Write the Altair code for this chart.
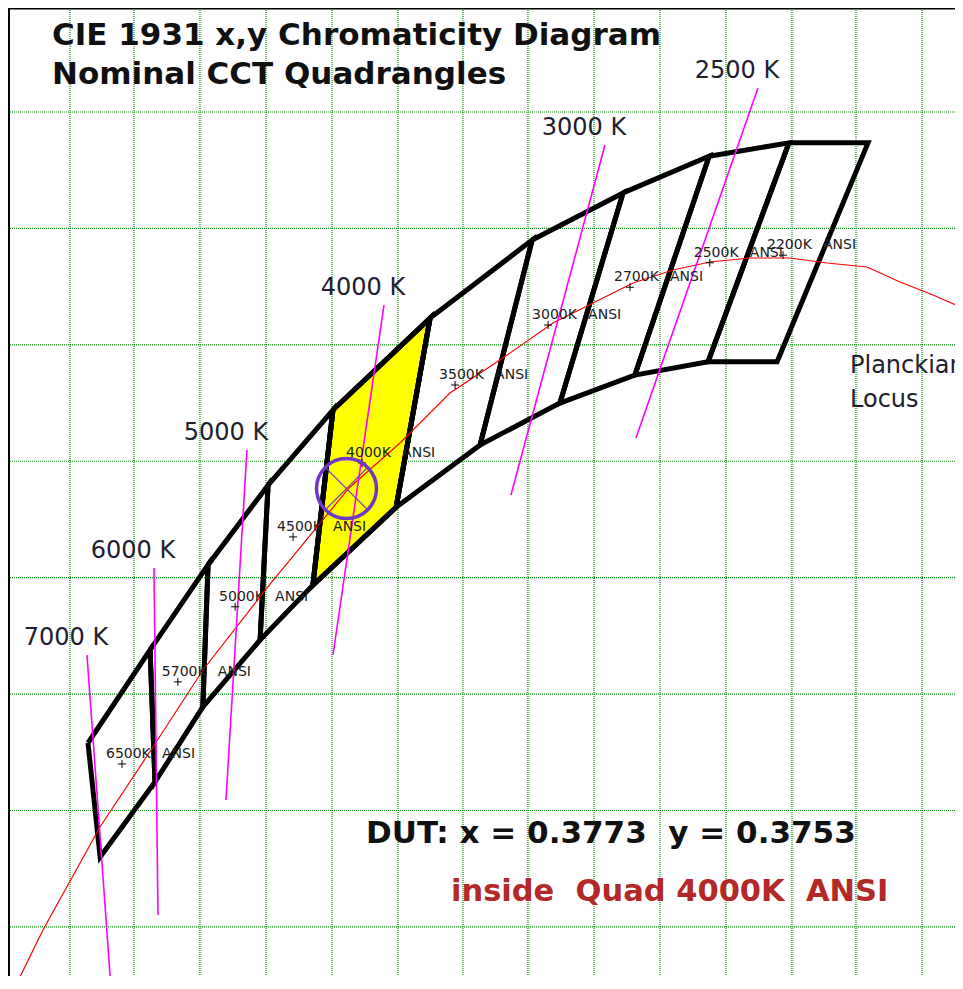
import altair as alt
import pandas as pd

W, H = 947, 968
X_DOMAIN = [0.27975, 0.55266]
Y_DOMAIN = [0.291572, 0.457866]

# ANSI nominal CCT quadrangles (shared corner chains, left to right)
quad_names = ["6500K", "5700K", "5000K", "4500K", "4000K", "3500K", "3000K", "2700K", "2500K", "2200K"]
top_x = [0.3028, 0.3207, 0.3374, 0.3547, 0.3734, 0.4014, 0.4308, 0.4570, 0.4818, 0.5048, 0.5276]
top_y = [0.3316, 0.3476, 0.3622, 0.3759, 0.3888, 0.4046, 0.4180, 0.4261, 0.4324, 0.4347, 0.4347]
bot_x = [0.3063, 0.3221, 0.3359, 0.3524, 0.3676, 0.3916, 0.4158, 0.4388, 0.4604, 0.4815, 0.5014]
bot_y = [0.3120, 0.3249, 0.3378, 0.3493, 0.3587, 0.3721, 0.3828, 0.3900, 0.3948, 0.3971, 0.3971]
center_x = [0.3126, 0.3287, 0.3452, 0.3619, 0.3818, 0.4086, 0.4354, 0.4590, 0.4820, 0.5031]
center_y = [0.3280, 0.3421, 0.3550, 0.3670, 0.3797, 0.3931, 0.4034, 0.4099, 0.4141, 0.4154]

# Planckian locus
locus_x = [0.28176, 0.28983, 0.30626, 0.32153, 0.33594, 0.35439, 0.37802, 0.39271, 0.40712,
           0.42153, 0.43681, 0.44833, 0.45986, 0.47139, 0.48205, 0.49358, 0.50511, 0.51577,
           0.52730, 0.53681, 0.54632, 0.55496]
locus_y = [0.28968, 0.29947, 0.31717, 0.33091, 0.34414, 0.35823, 0.37541, 0.38314, 0.39173,
           0.39740, 0.40375, 0.40719, 0.41062, 0.41286, 0.41423, 0.41492, 0.41492, 0.41406,
           0.41337, 0.41080, 0.40856, 0.40633]

# Isotherm lines
iso_labels = ["2500 K", "3000 K", "4000 K", "5000 K", "6000 K", "7000 K"]
iso_x1 = [0.49588, 0.45179, 0.38810, 0.34862, 0.32182, 0.30251]
iso_y1 = [0.44412, 0.43433, 0.40684, 0.38193, 0.36166, 0.34672]
iso_x2 = [0.46072, 0.42470, 0.37341, 0.34257, 0.32297, 0.30943]
iso_y2 = [0.38400, 0.37420, 0.34672, 0.32181, 0.30205, 0.28951]

# Grid lines
grid_x = [0.29761, 0.31606, 0.33508, 0.35410, 0.37312, 0.39214, 0.41087, 0.42960,
          0.44862, 0.46764, 0.48666, 0.50568, 0.52413, 0.54315]
grid_y = [0.30, 0.32, 0.34, 0.36, 0.38, 0.40, 0.42, 0.44]

# Device under test
dut_x = [0.3773]
dut_y = [0.3753]
dut_quad = "4000K"

NB = "\u00a0"
title_lines = ["CIE 1931 x,y Chromaticity Diagram", "Nominal CCT Quadrangles"]
dut_text = "DUT: x = 0.3773" + NB * 2 + "y = 0.3753"
result_text = "inside" + NB * 2 + "Quad 4000K" + NB * 2 + "ANSI"

# ---- build tables ----
rows = []
for i, name in enumerate(quad_names):
    verts = [(top_x[i], top_y[i]), (top_x[i + 1], top_y[i + 1]),
             (bot_x[i + 1], bot_y[i + 1]), (bot_x[i], bot_y[i]), (top_x[i], top_y[i])]
    for k, (vx, vy) in enumerate(verts):
        rows.append({"quad": name, "k": k, "x": vx, "y": vy})
quad_df = pd.DataFrame(rows)
center_df = pd.DataFrame({"quad": quad_names, "x": center_x, "y": center_y, "ansi": ["ANSI"] * len(quad_names)})
locus_df = pd.DataFrame({"x": locus_x, "y": locus_y, "i": list(range(len(locus_x)))})
iso_df = pd.DataFrame({"label": iso_labels, "x": iso_x1, "y": iso_y1, "x2": iso_x2, "y2": iso_y2})
gx_df = pd.DataFrame({"x": grid_x})
gy_df = pd.DataFrame({"y": grid_y})
dut_df = pd.DataFrame({"x": dut_x, "y": dut_y})
one = pd.DataFrame({"a": [0]})

xs = alt.Scale(domain=X_DOMAIN, nice=False, zero=False)
ys = alt.Scale(domain=Y_DOMAIN, nice=False, zero=False)
X = lambda f="x": alt.X(f, type="quantitative", scale=xs, axis=None)
Y = lambda f="y": alt.Y(f, type="quantitative", scale=ys, axis=None)

GRID = "#0c8f0c"
grid_v = alt.Chart(gx_df).mark_rule(color=GRID, strokeWidth=1.2, strokeDash=[1, 1]).encode(x=X())
grid_h = alt.Chart(gy_df).mark_rule(color=GRID, strokeWidth=1.2, strokeDash=[1, 1]).encode(y=Y())

frame_l = alt.Chart(one).mark_rule(color="black", strokeWidth=2).encode(
    x=alt.value(1), y=alt.value(0), y2=alt.value(H))
frame_t = alt.Chart(one).mark_rule(color="black", strokeWidth=2).encode(
    y=alt.value(0.5), x=alt.value(0), x2=alt.value(W))

fill_q = alt.Chart(quad_df).transform_filter(alt.datum.quad == dut_quad).mark_line(
    fill="#ffff00", stroke="#000000", strokeWidth=5, clip=True
).encode(x=X(), y=Y(), order="k:Q")

quads = alt.Chart(quad_df).mark_line(color="black", strokeWidth=5, clip=True).encode(
    x=X(), y=Y(), detail="quad:N", order="k:Q")

locus = alt.Chart(locus_df).mark_line(color="#ff0000", strokeWidth=1.2, clip=True).encode(
    x=X(), y=Y(), order="i:Q")

iso = alt.Chart(iso_df).mark_rule(color="#ff00ff", strokeWidth=1.6, clip=True).encode(
    x=X(), y=Y(), x2="x2:Q", y2="y2:Q")
iso_txt = alt.Chart(iso_df).mark_text(
    font="DejaVu Sans", fontSize=24, color="#202030", dx=-21, dy=-17, align="center", baseline="middle"
).encode(x=X(), y=Y(), text="label:N")

q_lab = alt.Chart(center_df).mark_text(
    font="DejaVu Sans", fontSize=14, color="#202020", dx=-16, dy=-10, align="left", baseline="middle"
).encode(x=X(), y=Y(), text="quad:N")
q_ansi = alt.Chart(center_df).mark_text(
    font="DejaVu Sans", fontSize=14, color="#202020", dx=40, dy=-10, align="left", baseline="middle"
).encode(x=X(), y=Y(), text="ansi:N")
q_plus = alt.Chart(center_df).mark_point(
    shape="M-1,0L1,0M0,-1L0,1", size=64, filled=False, color="black", strokeWidth=1, opacity=1
).encode(x=X(), y=Y())

PURPLE = "#7038c8"
dut_circle = alt.Chart(dut_df).mark_point(
    shape="circle", size=3600, filled=False, color=PURPLE, strokeWidth=3.5, opacity=1
).encode(x=X(), y=Y())
dut_x_mark = alt.Chart(dut_df).mark_point(
    shape="M-1,-1L1,1M-1,1L1,-1", size=1600, filled=False, color=PURPLE, strokeWidth=1.3, opacity=1
).encode(x=X(), y=Y())

def label(text, x, y, size, weight="normal", color="#000000"):
    return alt.Chart(one).mark_text(
        text=text, font="DejaVu Sans", fontSize=size, fontWeight=weight, color=color,
        align="left", baseline="alphabetic"
    ).encode(x=alt.value(x), y=alt.value(y))

t1 = label(title_lines[0], 44, 37, 31, "bold", "#101010")
t2 = label(title_lines[1], 44, 76, 31, "bold", "#101010")
t3 = label(dut_text, 358, 835, 31, "bold", "#101010")
t4 = label(result_text, 443, 893, 30.5, "bold", "#b42828")
p1 = label("Planckian", 842, 365, 24, "normal", "#202030")
p2 = label("Locus", 842, 399, 24, "normal", "#202030")

chart = alt.layer(
    grid_v, grid_h, fill_q, quads, locus, iso, iso_txt, q_plus, q_lab, q_ansi,
    dut_x_mark, dut_circle, t1, t2, t3, t4, p1, p2, frame_l, frame_t
).properties(
    width=W, height=H, autosize="none", padding=0, background="white"
).configure_view(strokeWidth=0)

chart.save("out.html", embed_options={"renderer": "svg", "actions": False})
